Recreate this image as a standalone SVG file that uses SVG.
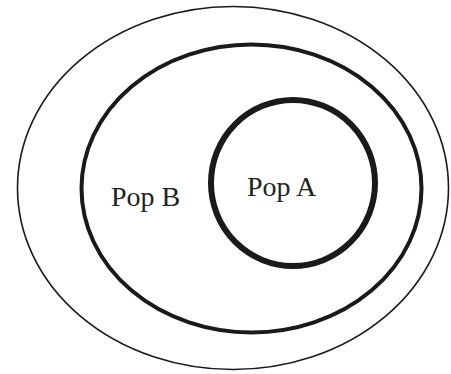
<svg xmlns="http://www.w3.org/2000/svg" width="451" height="374" viewBox="0 0 451 374">
<style>
.lbl{font-family:"Liberation Serif","Times New Roman",serif;font-size:28px;fill:#222}
ellipse{fill:none;stroke:#1a1a1a}
</style>
<rect width="451" height="374" fill="#fff"/>
<g id="outer"><ellipse cx="233" cy="188" rx="215.5" ry="181.5" stroke-width="1.6"/></g>
<g id="popB"><ellipse cx="251.5" cy="188.5" rx="170" ry="144" stroke-width="4"/><text class="lbl" x="111" y="206">Pop B</text></g>
<g id="popA"><ellipse cx="293" cy="183" rx="82" ry="83" stroke-width="6"/><text class="lbl" x="247" y="196">Pop A</text></g>
<g id="connectors"/>
</svg>
